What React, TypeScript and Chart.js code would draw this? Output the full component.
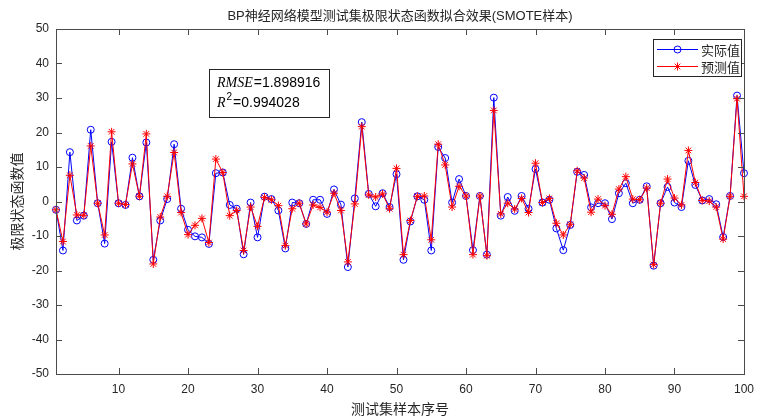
import React, { useEffect, useRef } from "react";
import { Chart, registerables } from "chart.js";

Chart.register(...registerables);

const TITLE = "BP神经网络模型测试集极限状态函数拟合效果(SMOTE样本)";
const X_LABEL = "测试集样本序号";
const Y_LABEL = "极限状态函数值";
const SERIES_NAMES = ["实际值", "预测值"];
const X_TICKS = [10, 20, 30, 40, 50, 60, 70, 80, 90, 100];
const Y_MIN = -50;
const Y_MAX = 50;
const RMSE_TEXT = "=1.898916";
const R2_TEXT = "=0.994028";

const actual = [
  -2.4, -14.2, 14.3, -5.5, -4.1, 20.8, -0.5, -12.2, 17.3, -0.5,
  -1.0, 12.7, 1.5, 17.1, -16.9, -5.5, 0.7, 16.6, -2.1, -8.2,
  -10.1, -10.4, -12.3, 8.2, 8.4, -1.0, -2.1, -15.3, -0.3, -10.4,
  1.4, 0.7, -2.6, -13.6, -0.3, -0.5, -6.5, 0.5, 0.5, -3.6,
  3.5, -0.9, -19.0, 0.9, 23.0, 2.2, -1.4, 2.4, -1.6, 7.9,
  -16.9, -5.8, 1.5, 0.5, -14.2, 15.8, 12.6, -0.3, 6.5, 1.6,
  -14.1, 1.6, -15.4, 30.1, -4.1, 1.3, -2.7, 1.6, -2.1, 9.4,
  -0.3, 0.5, -7.8, -14.1, -6.8, 8.6, 7.7, -1.7, -0.5, -0.5,
  -5.1, 2.4, 5.3, -0.5, 0.5, 4.4, -18.6, -0.5, 4.2, -0.3,
  -1.6, 11.8, 4.8, 0.3, 0.7, -0.8, -10.3, 1.6, 30.7, 8.2,
];

const predicted = [
  -2.4, -11.6, 7.6, -3.9, -4.0, 16.1, -0.5, -9.7, 20.2, -0.5,
  -0.9, 10.9, 1.5, 19.6, -18.1, -4.5, 1.5, 14.2, -3.2, -9.6,
  -6.9, -4.9, -11.9, 12.3, 8.4, -4.1, -2.6, -14.2, -1.6, -7.2,
  1.2, 0.5, -1.2, -12.8, -2.1, -0.5, -6.5, -1.0, -1.7, -3.1,
  2.4, -2.6, -17.5, -0.7, 21.7, 1.9, 1.3, 2.2, -2.1, 9.6,
  -15.4, -5.5, 1.5, 1.6, -11.1, 16.6, 10.6, -1.6, 4.4, 1.6,
  -15.4, 1.6, -15.7, 26.4, -3.6, -0.5, -2.2, 0.9, -3.2, 11.1,
  -0.3, 0.9, -6.3, -9.7, -6.6, 8.9, 6.8, -3.1, 0.7, -1.2,
  -3.7, 3.6, 7.2, 0.7, 0.5, 3.9, -18.3, -0.5, 6.5, 1.0,
  -1.0, 14.8, 5.5, 0.3, 0.1, -1.6, -10.9, 1.5, 29.8, 1.5,
];

const sampleIndex = actual.map((_, i) => i + 1);

const BLUE = "#0000ff";
const RED = "#ff0000";
const AXIS = "#4a4a4a";
const TEXT = "#262626";
const SANS = '"Liberation Sans", Arial, "Noto Sans CJK SC", sans-serif';
const CJK = '"Noto Sans CJK SC", "Liberation Sans", sans-serif';
const SERIF_IT = 'italic 14px "Liberation Serif", "DejaVu Serif", serif';

function drawCircle(ctx: CanvasRenderingContext2D, x: number, y: number, r: number, color: string) {
  ctx.beginPath();
  ctx.arc(x, y, r, 0, Math.PI * 2);
  ctx.strokeStyle = color;
  ctx.lineWidth = 1;
  ctx.stroke();
}

function drawStar(ctx: CanvasRenderingContext2D, x: number, y: number, r: number, color: string) {
  ctx.beginPath();
  for (let k = 0; k < 4; k++) {
    const a = (k * Math.PI) / 4;
    ctx.moveTo(x - r * Math.cos(a), y - r * Math.sin(a));
    ctx.lineTo(x + r * Math.cos(a), y + r * Math.sin(a));
  }
  ctx.strokeStyle = color;
  ctx.lineWidth = 1;
  ctx.stroke();
}

const framePlugin = {
  id: "matlabFrame",
  afterDraw(chart: any) {
    const { ctx, chartArea } = chart;
    const { left, right, top, bottom } = chartArea;
    const xs = chart.scales.x;
    const ys = chart.scales.y;
    ctx.save();

    // axes box
    ctx.strokeStyle = AXIS;
    ctx.lineWidth = 1;
    ctx.strokeRect(Math.round(left) + 0.5, Math.round(top) + 0.5, Math.round(right - left), Math.round(bottom - top));

    // inward ticks
    const tl = 6;
    ctx.beginPath();
    X_TICKS.forEach((v) => {
      const px = Math.round(xs.getPixelForValue(v)) + 0.5;
      ctx.moveTo(px, bottom);
      ctx.lineTo(px, bottom - tl);
      ctx.moveTo(px, top);
      ctx.lineTo(px, top + tl);
    });
    for (let v = Y_MIN; v <= Y_MAX; v += 10) {
      const py = Math.round(ys.getPixelForValue(v)) + 0.5;
      ctx.moveTo(left, py);
      ctx.lineTo(left + tl, py);
      ctx.moveTo(right, py);
      ctx.lineTo(right - tl, py);
    }
    ctx.stroke();

    // title
    const cx = (left + right) / 2;
    ctx.fillStyle = TEXT;
    ctx.font = `13px ${SANS}`;
    ctx.textAlign = "center";
    ctx.textBaseline = "middle";
    ctx.fillText(TITLE, cx, 16);

    // x label
    ctx.font = `14px ${CJK}`;
    ctx.fillText(X_LABEL, cx, 409);

    // y label
    ctx.save();
    ctx.translate(17, (top + bottom) / 2);
    ctx.rotate(-Math.PI / 2);
    ctx.fillText(Y_LABEL, 0, 0);
    ctx.restore();

    // annotation box
    ctx.fillStyle = "#ffffff";
    ctx.fillRect(209.5, 69.5, 120, 48);
    ctx.strokeStyle = "#262626";
    ctx.strokeRect(209.5, 69.5, 120, 48);
    ctx.fillStyle = "#000000";
    ctx.textAlign = "left";
    ctx.textBaseline = "alphabetic";
    ctx.font = SERIF_IT;
    ctx.fillText("RMSE", 217, 87);
    let w = ctx.measureText("RMSE").width;
    ctx.font = `14px ${SANS}`;
    ctx.fillText(RMSE_TEXT, 217 + w + 1, 87);
    ctx.font = SERIF_IT;
    ctx.fillText("R", 217, 107);
    w = ctx.measureText("R").width;
    ctx.font = `10px ${SANS}`;
    ctx.fillText("2", 217 + w + 1, 100);
    const w2 = ctx.measureText("2").width;
    ctx.font = `14px ${SANS}`;
    ctx.fillText(R2_TEXT, 217 + w + 1 + w2 + 1, 107);

    // legend
    const lx = 653.5, ly = 39.5, lw = 88, lh = 37;
    ctx.fillStyle = "#ffffff";
    ctx.fillRect(lx, ly, lw, lh);
    ctx.strokeStyle = "#262626";
    ctx.strokeRect(lx, ly, lw, lh);
    const rows = [
      { y: 49.5, color: BLUE, marker: "circle", label: SERIES_NAMES[0] },
      { y: 66.5, color: RED, marker: "star", label: SERIES_NAMES[1] },
    ];
    rows.forEach((r) => {
      ctx.beginPath();
      ctx.moveTo(657, r.y);
      ctx.lineTo(698, r.y);
      ctx.strokeStyle = r.color;
      ctx.lineWidth = 1;
      ctx.stroke();
      if (r.marker === "circle") drawCircle(ctx, 677.5, r.y, 3.5, r.color);
      else drawStar(ctx, 677.5, r.y, 4, r.color);
      ctx.fillStyle = TEXT;
      ctx.font = `13px ${CJK}`;
      ctx.textAlign = "left";
      ctx.textBaseline = "middle";
      ctx.fillText(r.label, 701, r.y + 0.5);
    });

    ctx.restore();
  },
};

export default function App() {
  const canvasRef = useRef<HTMLCanvasElement | null>(null);

  useEffect(() => {
    document.body.style.margin = "0";
    const canvas = canvasRef.current;
    if (!canvas) return;
    const chart = new Chart(canvas, {
      type: "line",
      data: {
        datasets: [
          {
            label: SERIES_NAMES[0],
            data: sampleIndex.map((x, i) => ({ x, y: actual[i] })),
            borderColor: BLUE,
            backgroundColor: "rgba(0,0,0,0)",
            borderWidth: 1,
            pointStyle: "circle",
            pointRadius: 3.5,
            pointBorderWidth: 1,
            pointBorderColor: BLUE,
            pointBackgroundColor: "rgba(0,0,0,0)",
            tension: 0,
            order: 1,
            clip: false as any,
          },
          {
            label: SERIES_NAMES[1],
            data: sampleIndex.map((x, i) => ({ x, y: predicted[i] })),
            borderColor: RED,
            backgroundColor: RED,
            borderWidth: 1,
            pointStyle: "star",
            pointRadius: 4,
            pointBorderWidth: 1,
            pointBorderColor: RED,
            pointBackgroundColor: RED,
            tension: 0,
            order: 0,
            clip: false as any,
          },
        ],
      },
      options: {
        responsive: false,
        animation: false,
        devicePixelRatio: 1,
        layout: { padding: { left: 0, right: 11, top: 29, bottom: 0 } },
        plugins: {
          legend: { display: false },
          tooltip: { enabled: false },
          title: { display: false },
        },
        scales: {
          x: {
            type: "linear",
            min: 1,
            max: 100,
            grid: { display: false, drawTicks: false },
            border: { display: false },
            afterBuildTicks: (scale: any) => {
              scale.ticks = X_TICKS.map((v) => ({ value: v }));
            },
            afterFit: (scale: any) => {
              scale.height = 44;
            },
            ticks: {
              padding: 8,
              color: TEXT,
              font: { family: SANS, size: 12 },
              maxRotation: 0,
              autoSkip: false,
            },
          },
          y: {
            type: "linear",
            min: Y_MIN,
            max: Y_MAX,
            grid: { display: false, drawTicks: false },
            border: { display: false },
            afterFit: (scale: any) => {
              scale.width = 56;
            },
            ticks: {
              stepSize: 10,
              padding: 7,
              color: TEXT,
              font: { family: SANS, size: 12 },
            },
          },
        },
      },
      plugins: [framePlugin],
    });
    return () => chart.destroy();
  }, []);

  return (
    <div style={{ width: 762, height: 418, background: "#ffffff" }}>
      <canvas ref={canvasRef} width={762} height={418} />
    </div>
  );
}
